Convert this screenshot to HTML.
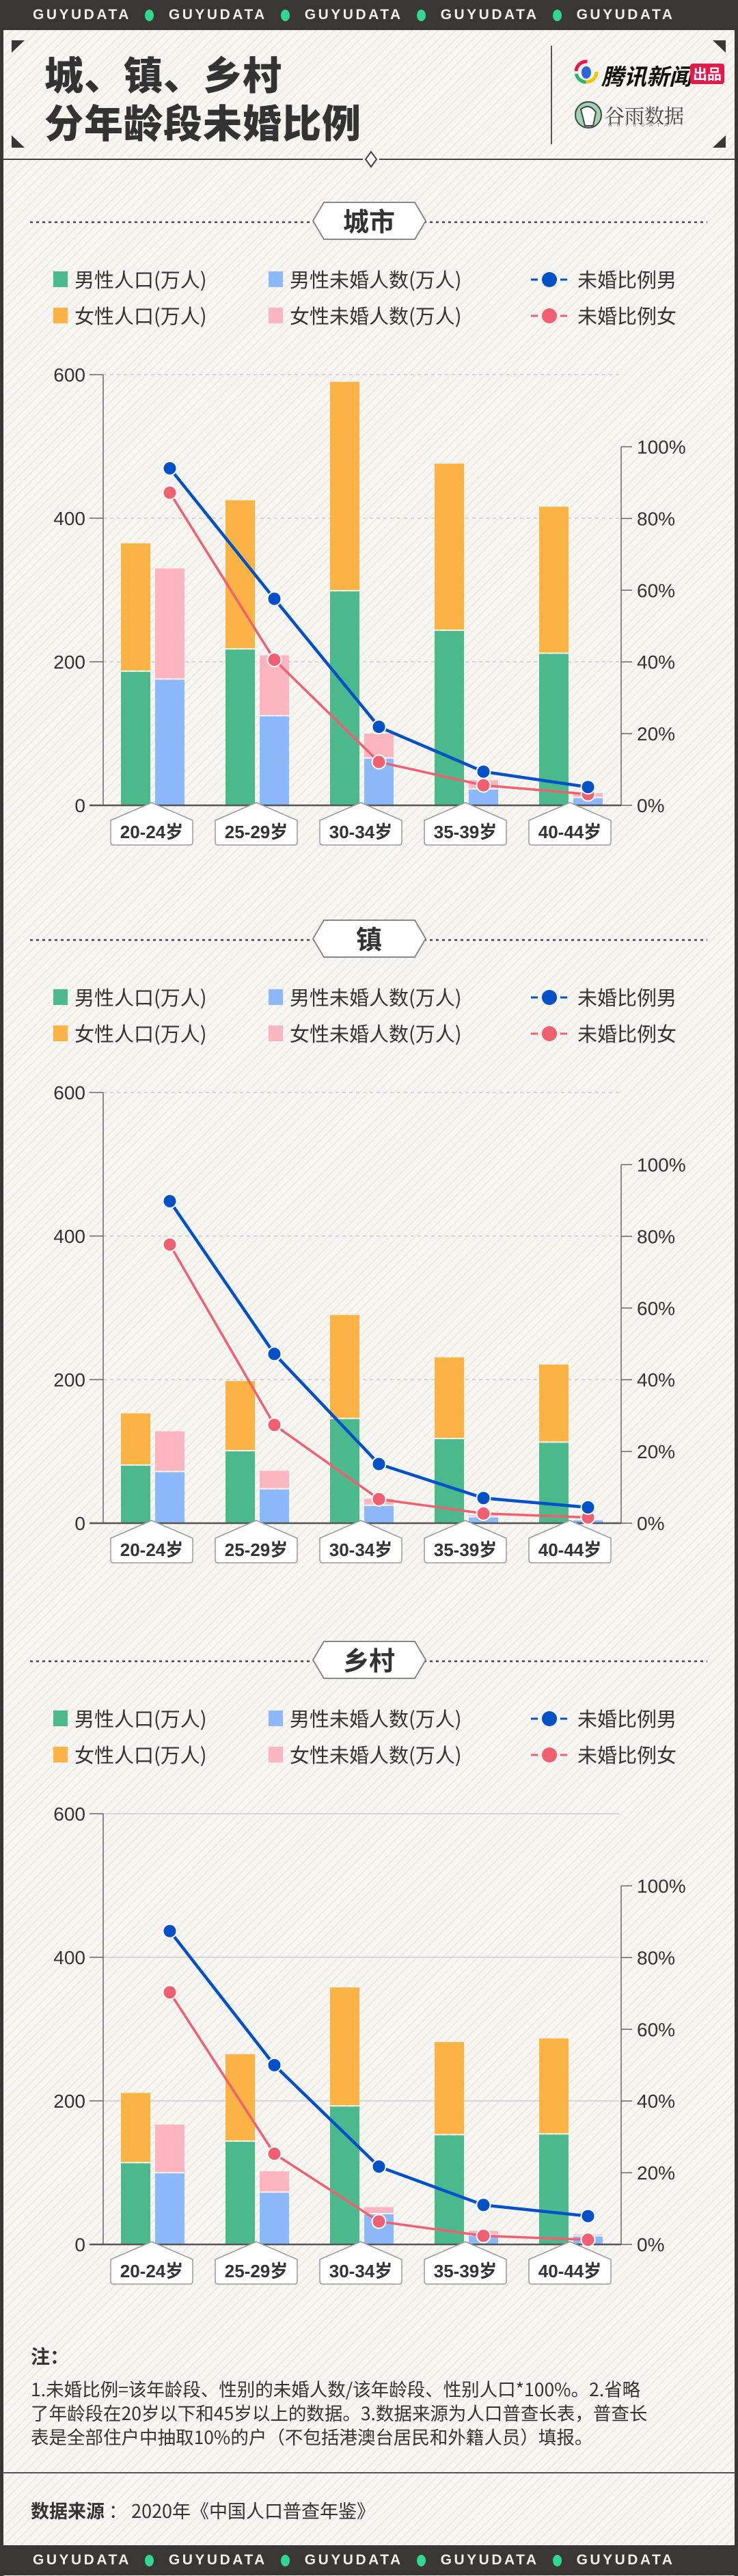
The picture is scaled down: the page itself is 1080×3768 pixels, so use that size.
<!DOCTYPE html>
<html><head><meta charset="utf-8">
<style>
*{margin:0;padding:0;box-sizing:border-box}
body{width:1080px;height:3768px;position:relative;overflow:hidden;font-family:"Liberation Sans","Noto Sans CJK SC",sans-serif;color:#333;
background:repeating-linear-gradient(135deg,#f7f5f1 0 7px,#eeebe6 7px 9px);}
.abs{position:absolute}
.bar{left:0;width:1080px;height:44px;background:#3a3634;display:flex;align-items:center;padding-left:48px;color:#eee;font-size:21px;letter-spacing:3.5px;font-weight:bold}
.bar span.dot{display:inline-block;width:13px;height:17px;border-radius:50%;background:#2fd88e;margin:0 22px 0 20px;vertical-align:middle}
.side{top:0;width:5px;height:3768px;background:#3a3634}
.title{left:65px;font-size:57px;font-weight:900;color:#333;font-family:"Noto Sans CJK SC",sans-serif;letter-spacing:1px}
.leg{font-size:29px;color:#333;font-family:"Noto Sans CJK SC",sans-serif;white-space:nowrap}
.note{left:45px;font-size:26.5px;color:#333;white-space:nowrap;font-family:"Noto Sans CJK SC",sans-serif;line-height:35px}
</style></head>
<body>
<div class="abs side" style="left:0"></div>
<div class="abs side" style="right:0"></div>
<div class="abs bar" style="top:0">GUYUDATA<span class="dot"></span>GUYUDATA<span class="dot"></span>GUYUDATA<span class="dot"></span>GUYUDATA<span class="dot"></span>GUYUDATA</div>
<div class="abs bar" style="top:3723px">GUYUDATA<span class="dot"></span>GUYUDATA<span class="dot"></span>GUYUDATA<span class="dot"></span>GUYUDATA<span class="dot"></span>GUYUDATA</div>

<div class="abs title" style="top:66px">城、镇、乡村</div>
<div class="abs title" style="top:136px">分年龄段未婚比例</div>
<div class="abs" style="left:806px;top:67px;width:2px;height:144px;background:#555"></div>
<div class="abs" style="left:880px;top:86px;font-size:33px;font-weight:bold;font-style:italic;color:#111;font-family:'Noto Sans CJK SC',sans-serif">腾讯新闻</div>
<div class="abs" style="left:1010px;top:93px;width:50px;height:30px;background:#e8174a;border-radius:4px;color:#fff;font-size:21px;font-weight:bold;text-align:center;line-height:30px;font-family:'Noto Sans CJK SC',sans-serif">出品</div>
<div class="abs" style="left:885px;top:148px;font-size:29px;color:#444;font-family:'Noto Serif CJK SC',serif">谷雨数据</div>
<div class="abs" style="left:890px;top:180px;font-size:7px;color:#777;letter-spacing:7px">GUYUDATA</div>

<div class="abs" style="left:45px;top:3426px;font-size:28px;font-weight:bold;font-family:'Noto Sans CJK SC',sans-serif">注：</div>
<div class="abs note" style="top:3476px">1.未婚比例=该年龄段、性别的未婚人数/该年龄段、性别人口*100%。2.省略<br>了年龄段在20岁以下和45岁以上的数据。3.数据来源为人口普查长表，普查长<br>表是全部住户中抽取10%的户（不包括港澳台居民和外籍人员）填报。</div>
<div class="abs" style="left:4px;top:3616px;width:1072px;height:2px;background:#555"></div>
<div class="abs" style="left:45px;top:3652px;font-size:27px;font-family:'Noto Sans CJK SC',sans-serif;white-space:nowrap"><b>数据来源</b> ： 2020年《中国人口普查年鉴》</div>

<svg id="chart" class="abs" style="left:0;top:0" width="1080" height="3768"></svg>

<script>
const categories = ["20-24岁","25-29岁","30-34岁","35-39岁","40-44岁"];
const leftTicks = [0,200,400,600];
const rightTicks = ["0%","20%","40%","60%","80%","100%"];
const sectionTitles = ["城市","镇","乡村"];

const cityMalePop = [186,217,298,243,211];
const cityFemalePop = [179,208,292,233,205];
const cityMaleUnm = [175,124,65,22,10];
const cityFemaleUnm = [155,85,35,13,7];
const cityMaleRate = [94,57.6,21.9,9.4,5.1];
const cityFemaleRate = [87.2,40.6,12.1,5.6,3.1];

const townMalePop = [80,100,145,117,112];
const townFemalePop = [73,98,145,114,109];
const townMaleUnm = [71,47,24,8,4];
const townFemaleUnm = [57,26,10,3,1.5];
const townMaleRate = [89.8,47.2,16.5,7,4.4];
const townFemaleRate = [77.7,27.4,6.7,2.7,1.6];

const ruralMalePop = [113,143,192,152,153];
const ruralFemalePop = [98,122,166,130,134];
const ruralMaleUnm = [99,72,42,12,11];
const ruralFemaleUnm = [68,30,10,7,3];
const ruralMaleRate = [87.4,50,21.7,11,7.9];
const ruralFemaleRate = [70.3,25.3,6.4,2.4,1.3];

const NS="http://www.w3.org/2000/svg";
const svg=document.getElementById('chart');
function mk(tag,attrs,parent){const e=document.createElementNS(NS,tag);for(const k in attrs)e.setAttribute(k,attrs[k]);(parent||svg).appendChild(e);return e;}

[["17,59 36,59 17,77"],["1062,59 1043,59 1062,77"],["17,216 36,216 17,198"],["1062,216 1043,216 1062,198"]].forEach(p=>{
  const t=mk('polygon',{points:p[0],fill:'#3a3634'});
  
  
});
let hl=mk('line',{x1:4,y1:233,x2:531,y2:233,stroke:'#444','stroke-width':2});


hl=mk('line',{x1:555,y1:233,x2:1076,y2:233,stroke:'#444','stroke-width':2});


const dm=mk('polygon',{points:'543,222 551,233 543,244 535,233',fill:'#fff',stroke:'#444','stroke-width':2});


const ti=mk('g',{});


mk('circle',{cx:858,cy:105,r:15,fill:'none',stroke:'#f5c400','stroke-width':5,'stroke-dasharray':'24 70'},ti);
mk('circle',{cx:858,cy:105,r:15,fill:'none',stroke:'#e8174a','stroke-width':5,'stroke-dasharray':'0 48 24 30'},ti);
mk('circle',{cx:858,cy:105,r:15,fill:'none',stroke:'#2fb36b','stroke-width':5,'stroke-dasharray':'0 24 20 60'},ti);
mk('ellipse',{cx:858,cy:106,rx:7,ry:9,fill:'#2a66d8'},ti);
const gi=mk('g',{});


mk('circle',{cx:861,cy:168,r:19,fill:'#9ed3b4',stroke:'#444','stroke-width':2},gi);
mk('path',{d:'M850 160 Q862 150 872 164 L868 184 L856 184 Z',fill:'#fff',stroke:'#444','stroke-width':2},gi);

const C={green:'#4bb98c',orange:'#fbb444',blue:'#8cb8fc',pink:'#fdb6c0',lblue:'#0050c8',red:'#f06070'};

function section(off,title,malePop,femalePop,maleUnm,femaleUnm,maleRate,femaleRate,idx){
  const g=mk('g',{transform:'translate(0,'+off+')'});
  
  
  mk('line',{x1:44,y1:325,x2:1035,y2:325,stroke:'#444','stroke-width':2.5,'stroke-dasharray':'4 5'},g);
  const pill=mk('polygon',{points:'474,296 607,296 623,323 607,350 474,350 458,323',fill:'#fff',stroke:'#888','stroke-width':2},g);
  
  
  const tt=mk('text',{x:540,y:338,'text-anchor':'middle','font-size':38,'font-weight':'bold',fill:'#333','font-family':'Noto Sans CJK SC, sans-serif'},g);
  tt.textContent=title;
  
  
  const legs=[[78,409,C.green,'男性人口(万人)','sq'],[393,409,C.blue,'男性未婚人数(万人)','sq'],[777,409,C.lblue,'未婚比例男','ln'],
              [78,462,C.orange,'女性人口(万人)','sq'],[393,462,C.pink,'女性未婚人数(万人)','sq'],[777,462,C.red,'未婚比例女','ln']];
  legs.forEach(l=>{
    const lg=mk('g',{},g);
    
    
    if(l[4]==='sq') mk('rect',{x:l[0],y:l[1]-12,width:21,height:23,fill:l[2]},lg);
    else{mk('line',{x1:l[0],y1:l[1],x2:l[0]+53,y2:l[1],stroke:l[2],'stroke-width':3,'stroke-dasharray':'10 33 10'},lg);mk('circle',{cx:l[0]+27,cy:l[1],r:11,fill:l[2]},lg);}
    const t=mk('text',{x:l[4]==='sq'?l[0]+31:l[0]+68,y:l[1]+11,'font-size':29,fill:'#333','font-family':'Noto Sans CJK SC, sans-serif'},lg);
    t.textContent=l[3];
  });
  const y0=1178, top=548, yL=v=>y0-(v/600)*(y0-top);
  const rTop=653.5, yR=p=>y0-(p/100)*(y0-rTop);
  const cx=i=>222+153*i;
  leftTicks.forEach(v=>{
    if(v>0){const gl=mk('line',{x1:151,y1:yL(v),x2:906,y2:yL(v),stroke:'#ccc','stroke-width':1.5,'stroke-dasharray':idx===2?'none':'5 5'},g);
      
      }
    mk('line',{x1:131,y1:yL(v),x2:151,y2:yL(v),stroke:'#666','stroke-width':1.5},g);
    const t=mk('text',{x:125,y:yL(v)+10,'text-anchor':'end','font-size':28,fill:'#333'},g);
    t.textContent=v;
    
    
  });
  mk('line',{x1:151,y1:top,x2:151,y2:y0,stroke:'#666','stroke-width':1.5},g);
  mk('line',{x1:909,y1:rTop,x2:909,y2:y0,stroke:'#666','stroke-width':1.5},g);
  rightTicks.forEach((s,k)=>{
    const p=k*20;
    mk('line',{x1:909,y1:yR(p),x2:925,y2:yR(p),stroke:'#666','stroke-width':1.5},g);
    const t=mk('text',{x:932,y:yR(p)+10,'font-size':28,fill:'#333'},g);
    t.textContent=s;
    
    
  });
  categories.forEach((c,i)=>{
    const x=cx(i);
    let r;
    r=mk('rect',{x:x-45,y:yL(malePop[i]),width:43,height:y0-yL(malePop[i]),fill:C.green},g);
    
    
    r=mk('rect',{x:x-45,y:yL(malePop[i]+femalePop[i]),width:43,height:yL(malePop[i])-yL(malePop[i]+femalePop[i])-2,fill:C.orange},g);
    
    
    r=mk('rect',{x:x+5,y:yL(maleUnm[i]),width:43,height:y0-yL(maleUnm[i]),fill:C.blue},g);
    
    
    r=mk('rect',{x:x+5,y:yL(maleUnm[i]+femaleUnm[i]),width:43,height:Math.max(0,yL(maleUnm[i])-yL(maleUnm[i]+femaleUnm[i])-2),fill:C.pink},g);
    
    
  });
  mk('line',{x1:131,y1:y0,x2:909,y2:y0,stroke:'#555','stroke-width':2.5},g);
  categories.forEach((c,i)=>{
    const x=cx(i);
    const tab=mk('path',{d:`M${x-60} 1200 L${x} 1174 L${x+60} 1200 L${x+60} 1232 Q${x+60} 1236 ${x+56} 1236 L${x-56} 1236 Q${x-60} 1236 ${x-60} 1232 Z`,fill:'#fff',stroke:'#999','stroke-width':1.5},g);
    
    
    const t=mk('text',{x:x,y:1226,'text-anchor':'middle','font-size':26,'font-weight':'bold',fill:'#333','font-family':'Liberation Sans, Noto Sans CJK SC, sans-serif'},g);
    t.textContent=c;
    
    
  });
  [[femaleRate,C.red,3.5,'line-female-rate'],[maleRate,C.lblue,4.5,'line-male-rate']].forEach(s=>{
    const pts=s[0].map((v,i)=>(cx(i)+26.5)+','+yR(v)).join(' ');
    const pl=mk('polyline',{points:pts,fill:'none',stroke:s[1],'stroke-width':s[2]},g);
    
    
    s[0].forEach((v,i)=>{
      const d=mk('circle',{cx:cx(i)+26.5,cy:yR(v),r:10,fill:s[1],stroke:'#fff','stroke-width':2},g);
      
      
    });
  });
}
section(0,sectionTitles[0],cityMalePop,cityFemalePop,cityMaleUnm,cityFemaleUnm,cityMaleRate,cityFemaleRate,0);
section(1050,sectionTitles[1],townMalePop,townFemalePop,townMaleUnm,townFemaleUnm,townMaleRate,townFemaleRate,1);
section(2105,sectionTitles[2],ruralMalePop,ruralFemalePop,ruralMaleUnm,ruralFemaleUnm,ruralMaleRate,ruralFemaleRate,2);
</script>
</body></html>
